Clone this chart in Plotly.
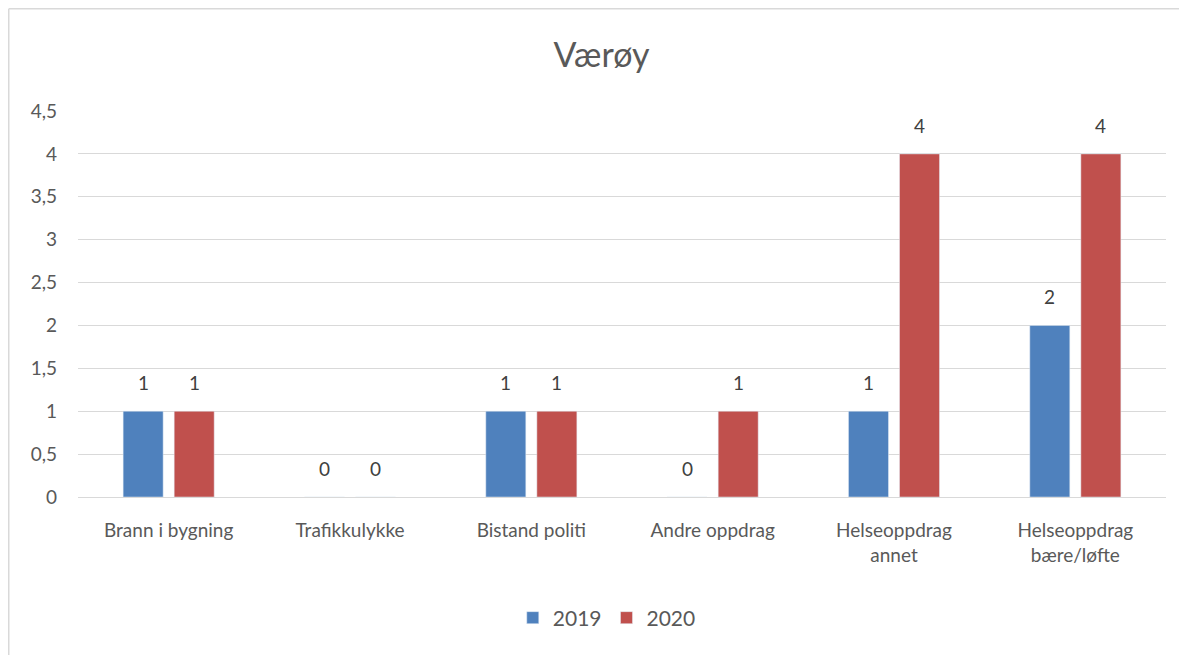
import plotly.graph_objects as go

categories = ["Brann i bygning", "Trafikkulykke", "Bistand politi", "Andre oppdrag",
              "Helseoppdrag<br>annet", "Helseoppdrag<br>bære/løfte"]
values_2019 = [1, 0, 1, 0, 1, 2]
values_2020 = [1, 0, 1, 1, 4, 4]
series = [("2019", values_2019, "#4f81bd"), ("2020", values_2020, "#c0504d")]
y_ticks = [0, 0.5, 1, 1.5, 2, 2.5, 3, 3.5, 4, 4.5]

font_family = "Lato, 'Open Sans', sans-serif"
gray = "#595959"

W, H = 1187, 655
ML, MR, MT, MB = 70, 29, 103, 166
BARGAP, GROUPGAP = 0.437, 0.216
plot_w = W - ML - MR
plot_h = H - MT - MB
cat_w = plot_w / len(categories)
slot = (1 - BARGAP) * cat_w / len(series)

fig = go.Figure()
for name, vals, color in series:
    fig.add_trace(go.Bar(name=name, x=categories, y=vals, marker_color=color))

annotations = []
for k, (name, vals, color) in enumerate(series):
    shift = (k - (len(series) - 1) / 2) * slot
    for c, v in zip(categories, vals):
        annotations.append(dict(x=c, y=v, text=str(v), showarrow=False, xshift=shift,
                                yshift=15, yanchor="bottom", xanchor="center",
                                font=dict(size=19, color="#404040", family=font_family)))

fig.update_layout(
    width=W, height=H,
    margin=dict(l=ML, r=MR, t=MT, b=MB),
    paper_bgcolor="white", plot_bgcolor="white",
    separators=", ",
    barmode="group", bargap=BARGAP, bargroupgap=GROUPGAP,
    font=dict(family=font_family, color=gray, size=19),
    title=dict(text="Værøy", x=0.5, xanchor="center", y=1 - 47 / H, yanchor="middle",
               font=dict(size=34, color=gray, family=font_family)),
    legend=dict(orientation="h", x=0.486, xanchor="center", y=(plot_h + MT - 610) / plot_h,
                yanchor="middle", font=dict(size=21, color=gray), traceorder="normal"),
    showlegend=True,
    annotations=annotations,
)
fig.update_xaxes(showgrid=False, showline=True, linecolor="#d9d9d9", linewidth=1,
                 ticks="", ticklabelstandoff=16, tickfont=dict(size=19, color=gray))
fig.update_yaxes(range=[0, 4.5], tickvals=y_ticks, showgrid=True, gridcolor="#d9d9d9",
                 zeroline=False, showline=False, ticks="", ticklabelstandoff=20,
                 tickfont=dict(size=19, color=gray))
# chart frame (left and top edges)
x_left = (0.75 - ML) / plot_w
y_top = (plot_h + MT - 0.75) / plot_h
fig.add_shape(type="line", xref="paper", yref="paper", x0=x_left, x1=x_left,
              y0=y_top, y1=-MB / plot_h, line=dict(color="#d9d9d9", width=1.5))
fig.add_shape(type="line", xref="paper", yref="paper", x0=x_left, x1=(plot_w + MR) / plot_w,
              y0=y_top, y1=y_top, line=dict(color="#d9d9d9", width=1.5))

fig.write_html("out.html")
